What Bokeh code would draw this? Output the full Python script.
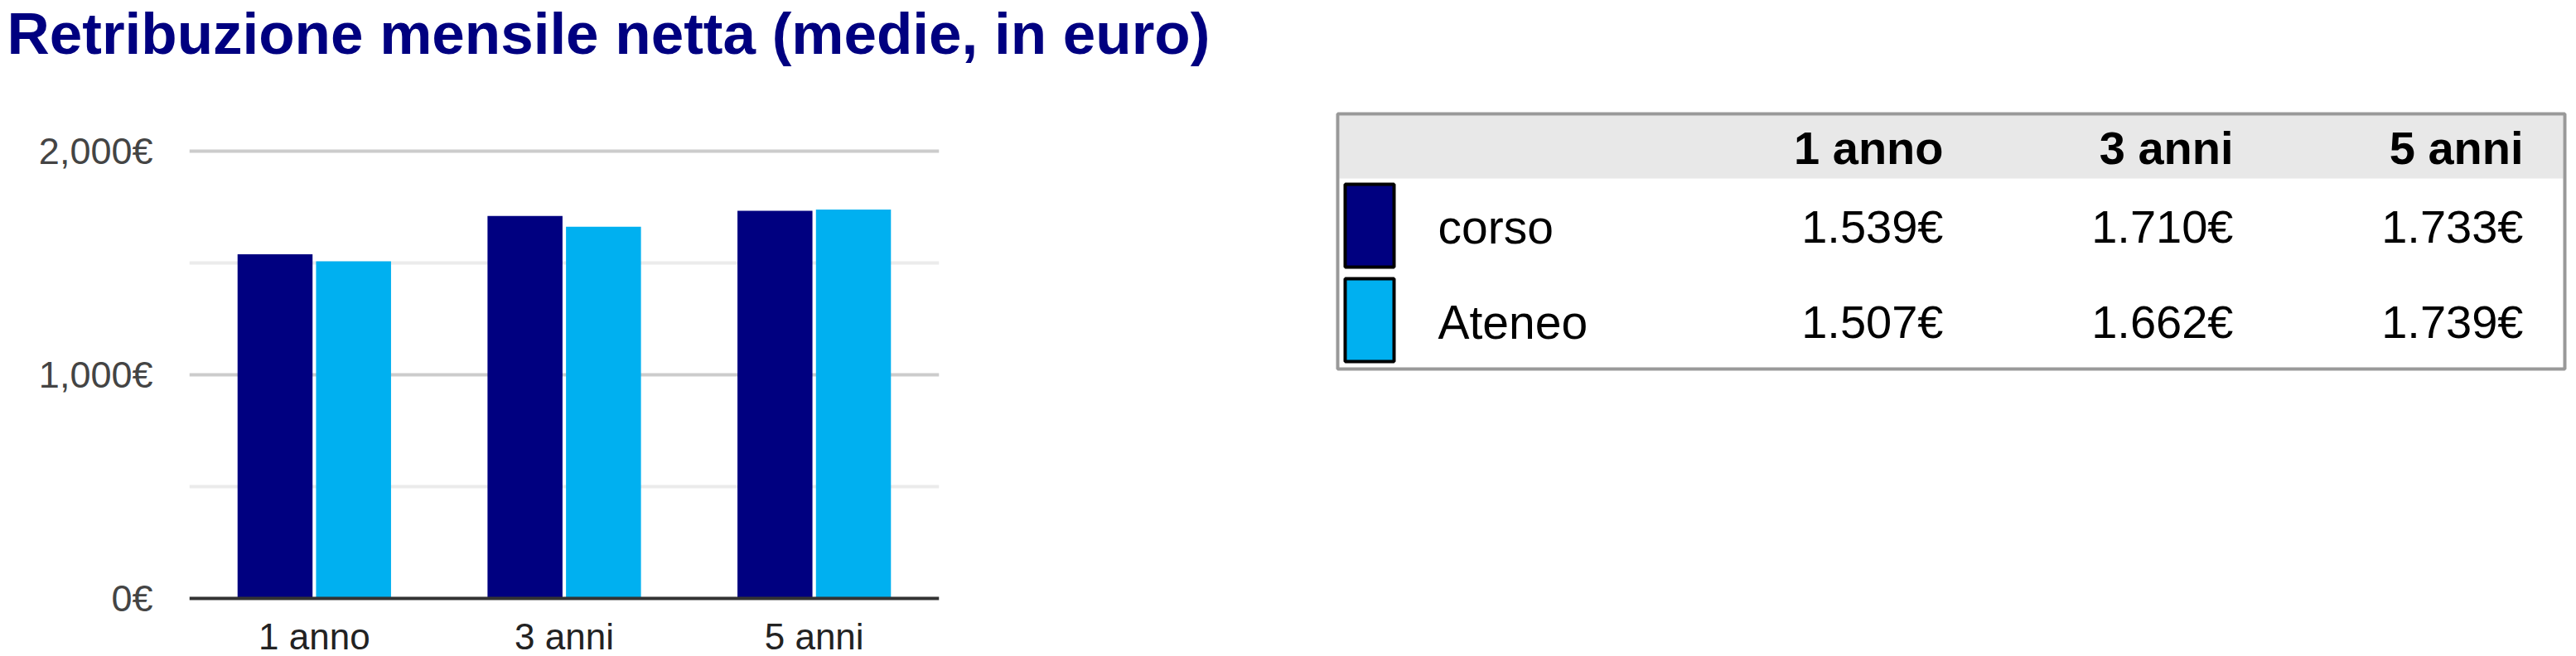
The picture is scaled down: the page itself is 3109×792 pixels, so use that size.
from bokeh.plotting import figure
from bokeh.layouts import column, row
from bokeh.models import ColumnDataSource, FactorRange, Range1d, FixedTicker
from bokeh.transform import dodge
from bokeh.core.properties import value
from bokeh.embed import file_html
from bokeh.resources import INLINE

# data
title = "Retribuzione mensile netta (medie, in euro)"
cats = ["1 anno", "3 anni", "5 anni"]
series = ["corso", "Ateneo"]
corso = [1539, 1710, 1733]
ateneo = [1507, 1662, 1739]
y_ticks = [0, 1000, 2000]
y_tick_labels = ["0€", "1,000€", "2,000€"]
minor_ticks = [500, 1500]

NAVY = "#000080"
CYAN = "#00b0f0"
FONT_NAME = "Liberation Sans"
FONT = value(FONT_NAME)


def euro(v):
    return f"{v:,}".replace(",", ".") + "€"


# title strip (screen coords x 0..3109, y 0..100)
t = figure(width=3109, height=100, x_range=Range1d(0, 3109), y_range=Range1d(100, 0),
           min_border=0, x_axis_location=None, y_axis_location=None,
           toolbar_location=None, output_backend="svg", outline_line_color=None)
t.grid.visible = False
t.text(x=[8], y=[40], text=[title], text_font=FONT, text_font_style="bold",
       text_font_size="71px", text_color=NAVY, text_baseline="alphabetic")

# bar chart (screen y 100..792); 0 sits at y 722, 2000 at y 182
px_per_unit = 540 / 2000
y_end = 2000 + (182 - 100) / px_per_unit
y_start = -(792 - 722) / px_per_unit

src = ColumnDataSource(dict(cat=cats, corso=corso, ateneo=ateneo))

p = figure(x_range=FactorRange(factors=cats, range_padding=0),
           y_range=Range1d(y_start, y_end),
           width=1598, height=692, output_backend="svg", toolbar_location=None,
           min_border_left=228, min_border_right=465, min_border_top=0,
           min_border_bottom=0, outline_line_color=None)

p.vbar(x=dodge("cat", -0.157, range=p.x_range), top="corso", width=0.3,
       source=src, fill_color=NAVY, line_color=None)
p.vbar(x=dodge("cat", 0.157, range=p.x_range), top="ateneo", width=0.3,
       source=src, fill_color=CYAN, line_color=None)

p.xgrid.visible = False
p.ygrid.ticker = FixedTicker(ticks=[1000, 2000], minor_ticks=minor_ticks)
p.ygrid.grid_line_color = "#cccccc"
p.ygrid.grid_line_width = 4
p.ygrid.minor_grid_line_color = "#ebebeb"
p.ygrid.minor_grid_line_width = 4

p.yaxis.ticker = FixedTicker(ticks=y_ticks, minor_ticks=[])
p.yaxis.major_label_overrides = dict(zip(y_ticks, y_tick_labels))
p.yaxis.axis_line_color = None
p.yaxis.major_tick_line_color = None
p.yaxis.minor_tick_line_color = None
p.yaxis.major_tick_out = 0
p.yaxis.major_tick_in = 0
p.yaxis.major_label_standoff = 44
p.yaxis.major_label_text_font = FONT_NAME
p.yaxis.major_label_text_font_size = "45px"
p.yaxis.major_label_text_color = "#444444"

p.xaxis.fixed_location = 0
p.xaxis.axis_line_color = "#333333"
p.xaxis.axis_line_width = 4
p.xaxis.major_tick_line_color = None
p.xaxis.minor_tick_line_color = None
p.xaxis.major_tick_out = 0
p.xaxis.major_tick_in = 0
p.xaxis.major_label_standoff = 21
p.xaxis.major_label_text_font = FONT_NAME
p.xaxis.major_label_text_font_size = "44px"
p.xaxis.major_label_text_color = "#222222"

# table (screen coords x 1598..3109, y 100..792)
q = figure(width=1511, height=692, x_range=Range1d(1598, 3109), y_range=Range1d(792, 100),
           min_border=0, x_axis_location=None, y_axis_location=None,
           toolbar_location=None, output_backend="svg", outline_line_color=None)
q.grid.visible = False

col_right = [2345, 2695, 3045]
header_y = 178
row_y = [273, 388]
sw_top = [222, 336]

q.quad(left=[1616], right=[3093], top=[139], bottom=[215],
       fill_color="#e8e8e8", line_color=None)
q.quad(left=[1614], right=[3095], top=[137], bottom=[445],
       fill_color=None, line_color="#999999", line_width=4)
q.quad(left=[1623, 1623], right=[1682, 1682], top=sw_top,
       bottom=[s + 100 for s in sw_top], fill_color=[NAVY, CYAN],
       line_color="black", line_width=4)

q.text(x=col_right, y=[header_y] * 3, text=cats, text_font=FONT, text_font_style="bold",
       text_font_size="56px", text_color="black", text_align="right",
       text_baseline="alphabetic")
q.text(x=[1735, 1735], y=row_y, text=series, text_font=FONT,
       text_font_size="57px", text_color="black", text_baseline="alphabetic")
for vals, yb in zip([corso, ateneo], row_y):
    q.text(x=col_right, y=[yb] * 3, text=[euro(v) for v in vals], text_font=FONT,
           text_font_size="56px", text_color="black", text_align="right",
           text_baseline="alphabetic")

layout = column(t, row(p, q))
open("out.html", "w").write(file_html(layout, INLINE))
